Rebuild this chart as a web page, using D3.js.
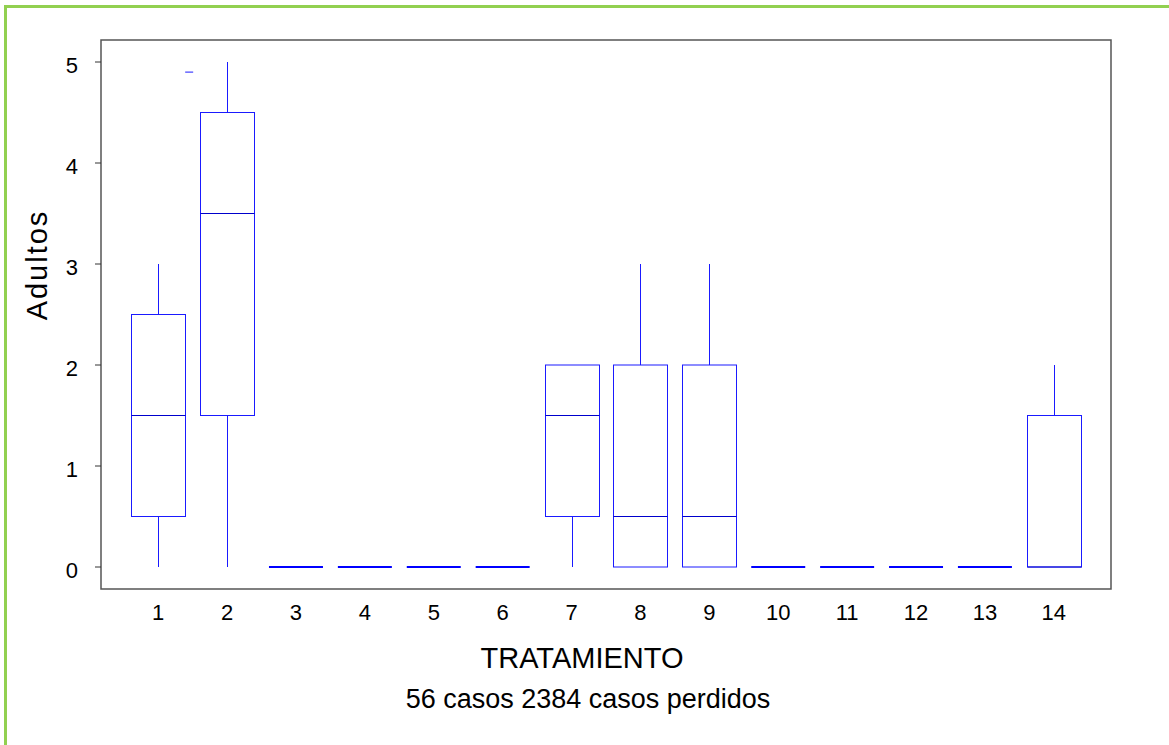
<!DOCTYPE html>
<html>
<head>
<meta charset="utf-8">
<script src="https://cdn.jsdelivr.net/npm/d3@7"></script>
<style>
  body { margin: 0; background: #fff; }
  svg text { font-family: "Liberation Sans", Arial, sans-serif; fill: #000; }
</style>
</head>
<body>
<div id="chart"></div>
<script>
// treatment groups
const categories = [1, 2, 3, 4, 5, 6, 7, 8, 9, 10, 11, 12, 13, 14];
// box statistics per group
const mins    = [0,   0,   0, 0, 0, 0, 0,   0,   0,   0, 0, 0, 0, 0];
const q1s     = [0.5, 1.5, 0, 0, 0, 0, 0.5, 0,   0,   0, 0, 0, 0, 0];
const medians = [1.5, 3.5, 0, 0, 0, 0, 1.5, 0.5, 0.5, 0, 0, 0, 0, 0];
const q3s     = [2.5, 4.5, 0, 0, 0, 0, 2,   2,   2,   0, 0, 0, 0, 1.5];
const maxs    = [3,   5,   0, 0, 0, 0, 2,   3,   3,   0, 0, 0, 0, 2];
// stray outlier mark near the top
const outlierPos = [1.45];
const outlierVal = [4.9];
const yTicks = [0, 1, 2, 3, 4, 5];

const W = 1169, H = 745;
const margin = {top: 40, left: 101, right: 58, bottom: 156};
const plotW = W - margin.left - margin.right;
const plotH = H - margin.top - margin.bottom;

const svg = d3.select("#chart").append("svg")
    .attr("width", W)
    .attr("height", H);

// green outer frame (runs off the right / bottom)
svg.append("rect")
    .attr("x", 5.5).attr("y", 6.5)
    .attr("width", W + 20).attr("height", H + 20)
    .attr("fill", "none")
    .attr("stroke", "#92D050")
    .attr("stroke-width", 3);

const g = svg.append("g")
    .attr("transform", `translate(${margin.left}, ${margin.top})`);

const x = d3.scaleLinear()
    .domain([1 - 0.83, 14 + 0.83])
    .range([0, plotW]);

const y = d3.scaleLinear()
    .domain([0, 5])
    .range([527, 22]);

const boxW = 54;
const blue = "#1a1aff";

// data table
const data = categories.map((c, i) => ({
    cat: c, min: mins[i], q1: q1s[i], med: medians[i], q3: q3s[i], max: maxs[i]
}));

// plot frame
g.append("rect")
    .attr("x", 0).attr("y", 0)
    .attr("width", plotW).attr("height", plotH)
    .attr("fill", "none")
    .attr("stroke", "#555")
    .attr("stroke-width", 1.5);

// y axis ticks
const yAxis = g.append("g").attr("class", "y-axis");
yAxis.selectAll("line").data(yTicks).enter()
    .append("line")
    .attr("x1", -6).attr("x2", 0)
    .attr("y1", d => y(d)).attr("y2", d => y(d))
    .attr("stroke", "#333").attr("stroke-width", 1);
yAxis.selectAll("text").data(yTicks).enter()
    .append("text")
    .attr("x", -23).attr("y", d => y(d) + 11)
    .attr("text-anchor", "end")
    .style("font-size", "22px")
    .text(d => d);

// x tick labels
g.selectAll(".xlab").data(categories).enter()
    .append("text")
    .attr("class", "xlab")
    .attr("x", d => x(d)).attr("y", plotH + 31)
    .attr("text-anchor", "middle")
    .style("font-size", "22px")
    .text(d => d);

// boxes
const boxes = g.selectAll(".box").data(data).enter()
    .append("g").attr("class", "box");

boxes.filter(d => d.max > d.min).each(function (d) {
    const b = d3.select(this);
    const cx = Math.round(x(d.cat)) + 0.5;
    // lower whisker
    if (d.q1 > d.min) {
        b.append("line")
            .attr("x1", cx).attr("x2", cx)
            .attr("y1", y(d.min)).attr("y2", y(d.q1))
            .attr("stroke", blue).attr("stroke-width", 1);
    }
    // upper whisker
    if (d.max > d.q3) {
        b.append("line")
            .attr("x1", cx).attr("x2", cx)
            .attr("y1", y(d.max)).attr("y2", y(d.q3))
            .attr("stroke", blue).attr("stroke-width", 1);
    }
    b.append("rect")
        .attr("x", cx - boxW / 2).attr("y", y(d.q3))
        .attr("width", boxW).attr("height", y(d.q1) - y(d.q3))
        .attr("fill", "none")
        .attr("stroke", blue).attr("stroke-width", 1);
    b.append("line")
        .attr("x1", cx - boxW / 2).attr("x2", cx + boxW / 2)
        .attr("y1", y(d.med)).attr("y2", y(d.med))
        .attr("stroke", "#0000cc").attr("stroke-width", 1);
});

// degenerate groups: all zeros -> flat thick line
boxes.filter(d => d.max === d.min).append("line")
    .attr("x1", d => x(d.cat) - boxW / 2)
    .attr("x2", d => x(d.cat) + boxW / 2)
    .attr("y1", d => y(d.med)).attr("y2", d => y(d.med))
    .attr("stroke", "#0000ff").attr("stroke-width", 2);

// outlier mark
g.selectAll(".outlier").data(outlierPos).enter()
    .append("line")
    .attr("class", "outlier")
    .attr("x1", d => x(d) - 4).attr("x2", d => x(d) + 4)
    .attr("y1", (d, i) => y(outlierVal[i])).attr("y2", (d, i) => y(outlierVal[i]))
    .attr("stroke", blue).attr("stroke-width", 1);

// axis titles
svg.append("text")
    .attr("transform", `translate(47, 265) rotate(-90)`)
    .attr("text-anchor", "middle")
    .style("font-size", "29px")
    .style("letter-spacing", "2px")
    .text("Adultos");

svg.append("text")
    .attr("x", margin.left + plotW / 2 - 24).attr("y", 668)
    .attr("text-anchor", "middle")
    .style("font-size", "29px")
    .text("TRATAMIENTO");

svg.append("text")
    .attr("x", margin.left + plotW / 2 - 18).attr("y", 708)
    .attr("text-anchor", "middle")
    .style("font-size", "27px")
    .text("56 casos 2384 casos perdidos");
</script>
</body>
</html>
